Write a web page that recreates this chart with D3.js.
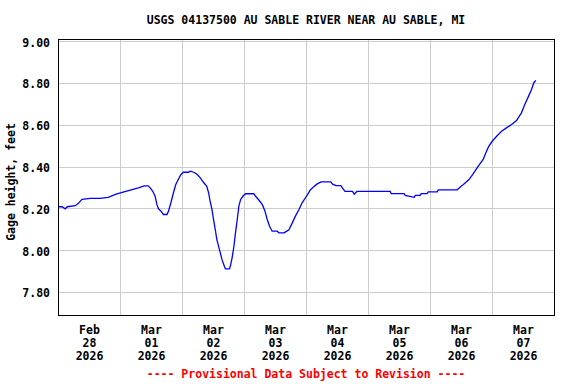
<!DOCTYPE html>
<html>
<head>
<meta charset="utf-8">
<script src="https://cdn.jsdelivr.net/npm/d3@7"></script>
<style>
  body { margin: 0; background: #fff; }
  text { font-family: "DejaVu Sans Mono", monospace; font-weight: bold; font-size: 11.5px; }
</style>
</head>
<body>
<svg id="chart" width="576" height="384"></svg>
<script>
var title = "USGS 04137500 AU SABLE RIVER NEAR AU SABLE, MI";
var yLabel = "Gage height, feet";
var footer = "---- Provisional Data Subject to Revision ----";

// hours after Feb 28 2026 00:00, and gage height
var hours = [0, 1.4, 2.6, 3.4, 6.5, 7.6, 9.1, 12.3, 16.1, 19.2, 22.3, 25.0, 27.8, 30.9, 33.2, 34.7,
  35.5, 36.5, 37.4, 38.1, 38.7, 39.6, 40.6, 42.0, 42.6, 43.5, 44.5, 45.4, 46.5, 47.4, 48.4, 50.3,
  51.0, 52.3, 53.6, 54.9, 56.1, 57.4, 58.1, 58.7, 59.4, 60.0, 60.7, 61.3, 62.3, 63.3, 64.0, 64.6,
  66.2, 66.6, 67.2, 67.9, 68.5, 69.2, 69.8, 70.5, 71.4, 72.4, 75.6, 76.3, 77.6, 78.9, 79.9, 80.8,
  81.7, 82.7, 84.7, 85.3, 87.3, 87.9, 89.2, 90.5, 91.7, 93.1, 94.3, 95.6, 96.4, 97.4, 98.7, 100.0,
  101.6, 105.4, 106.1, 107.4, 109.3, 109.9, 110.9, 113.8, 114.5, 115.5, 128.4, 128.8, 133.8, 134.2,
  137.7, 138.1, 140.0, 140.4, 142.7, 143.1, 146.6, 147.0, 154.3, 155.1, 156.2, 157.4, 158.9, 160.5,
  162.5, 164.4, 165.7, 166.6, 167.9, 169.6, 171.5, 173.4, 175.4, 177.3, 179.2, 180.5, 181.8, 183.1,
  184.0, 184.8];
var gage = [8.21, 8.21, 8.20, 8.21, 8.215, 8.225, 8.245, 8.25, 8.25, 8.255, 8.27, 8.28, 8.29, 8.30, 8.31, 8.31,
  8.30, 8.284, 8.26, 8.22, 8.20, 8.19, 8.173, 8.173, 8.19, 8.229, 8.277, 8.316, 8.344, 8.364, 8.375, 8.375,
  8.38, 8.375, 8.365, 8.348, 8.327, 8.308, 8.277, 8.236, 8.197, 8.15, 8.10, 8.053, 8.005, 7.957, 7.933, 7.913,
  7.913, 7.93, 7.966, 8.02, 8.085, 8.149, 8.212, 8.245, 8.26, 8.272, 8.272, 8.26, 8.241, 8.22, 8.19, 8.149,
  8.117, 8.093, 8.093, 8.085, 8.085, 8.09, 8.10, 8.133, 8.165, 8.197, 8.229, 8.253, 8.268, 8.289, 8.305, 8.318,
  8.329, 8.329, 8.318, 8.311, 8.311, 8.30, 8.283, 8.283, 8.27, 8.283, 8.283, 8.273, 8.273, 8.264,
  8.255, 8.264, 8.264, 8.273, 8.273, 8.281, 8.281, 8.291, 8.291, 8.30, 8.311, 8.324, 8.34, 8.367,
  8.404, 8.436, 8.476, 8.50, 8.523, 8.547, 8.571, 8.587, 8.603, 8.622, 8.659, 8.699, 8.734, 8.771,
  8.803, 8.814];

var yTicks = [7.80, 8.00, 8.20, 8.40, 8.60, 8.80, 9.00];
var dayLabels = [["Feb", "28", "2026"], ["Mar", "01", "2026"], ["Mar", "02", "2026"], ["Mar", "03", "2026"],
  ["Mar", "04", "2026"], ["Mar", "05", "2026"], ["Mar", "06", "2026"], ["Mar", "07", "2026"]];

var start = new Date(2026, 1, 28);
var end = new Date(2026, 2, 8);
var data = hours.map(function(h, i){ return {t: new Date(start.getTime() + h * 3600e3), v: gage[i]}; });

var svg = d3.select("#chart");

var x = d3.scaleTime().domain([start, end]).range([58.5, 554.5]);
var y = d3.scaleLinear().domain([7.69, 9.0096]).range([315.5, 39.5]);

// grid
svg.append("g").selectAll("line.h")
  .data(yTicks).enter()
  .append("line")
  .attr("x1", 58.5).attr("x2", 554.5)
  .attr("y1", function(d){ return Math.round(y(d) - 0.5) + 0.5; })
  .attr("y2", function(d){ return Math.round(y(d) - 0.5) + 0.5; })
  .attr("stroke", "#cccccc");

svg.append("g").selectAll("line.v")
  .data(d3.timeDay.range(d3.timeDay.offset(start, 1), end)).enter()
  .append("line")
  .attr("x1", function(d){ return Math.round(x(d) - 0.5) + 0.5; })
  .attr("x2", function(d){ return Math.round(x(d) - 0.5) + 0.5; })
  .attr("y1", 39.5).attr("y2", 315.5)
  .attr("stroke", "#cccccc");

// data line
var line = d3.line()
  .x(function(d){ return x(d.t); })
  .y(function(d){ return y(d.v); });

svg.append("path")
  .datum(data)
  .attr("d", line)
  .attr("fill", "none")
  .attr("stroke", "#0000ff")
  .attr("stroke-width", 1.3);

// frame
svg.append("rect")
  .attr("x", 58.5).attr("y", 39.5)
  .attr("width", 496).attr("height", 276)
  .attr("fill", "none")
  .attr("stroke", "#000");

// y tick labels
svg.append("g").selectAll("text")
  .data(yTicks).enter()
  .append("text")
  .attr("x", 50)
  .attr("y", function(d){ return y(d) + 5; })
  .attr("text-anchor", "end")
  .text(function(d){ return d.toFixed(2); });

// x tick labels, centred on noon of each day
var days = svg.append("g").selectAll("g")
  .data(dayLabels).enter()
  .append("g")
  .attr("transform", function(d, i){
    return "translate(" + x(d3.timeHour.offset(start, i * 24 + 12)) + ",0)";
  });

days.selectAll("text")
  .data(function(d){ return d; }).enter()
  .append("text")
  .attr("text-anchor", "middle")
  .attr("y", function(d, i){ return 334 + i * 13; })
  .text(function(d){ return d; });

svg.append("text")
  .attr("x", 306).attr("y", 24)
  .attr("text-anchor", "middle")
  .text(title);

svg.append("text")
  .attr("transform", "translate(15,182) rotate(-90)")
  .attr("text-anchor", "middle")
  .text(yLabel);

svg.append("text")
  .attr("x", 306).attr("y", 378)
  .attr("text-anchor", "middle")
  .attr("fill", "#ff0000")
  .text(footer);
</script>
</body>
</html>
